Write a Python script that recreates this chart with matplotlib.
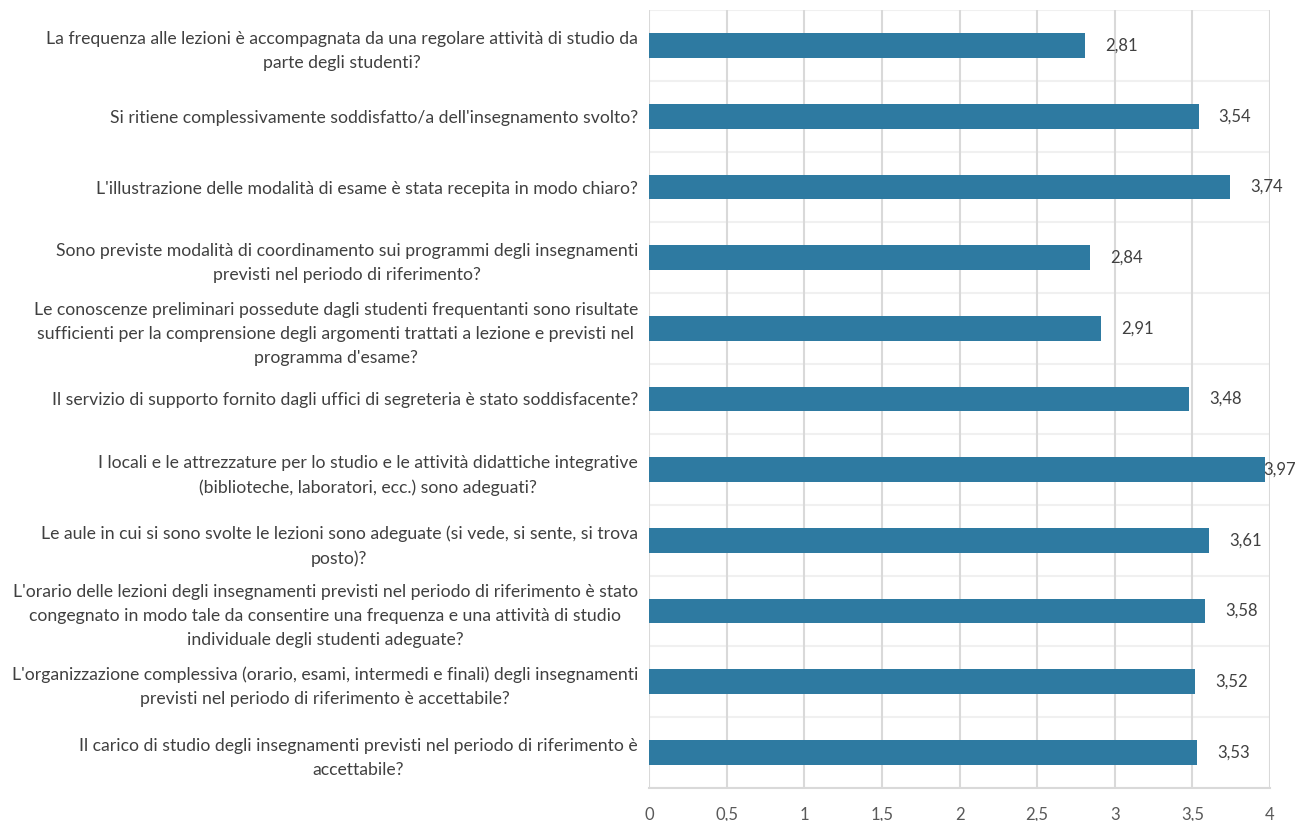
import matplotlib
matplotlib.use("Agg")
import matplotlib.pyplot as plt
import numpy as np

categories = [
    "La frequenza alle lezioni è accompagnata da una regolare attività di studio da\nparte degli studenti?",
    "Si ritiene complessivamente soddisfatto/a dell'insegnamento svolto?",
    "L'illustrazione delle modalità di esame è stata recepita in modo chiaro?",
    "Sono previste modalità di coordinamento sui programmi degli insegnamenti\nprevisti nel periodo di riferimento?",
    "Le conoscenze preliminari possedute dagli studenti frequentanti sono risultate\nsufficienti per la comprensione degli argomenti trattati a lezione e previsti nel\nprogramma d'esame?",
    "Il servizio di supporto fornito dagli uffici di segreteria è stato soddisfacente?",
    "I locali e le attrezzature per lo studio e le attività didattiche integrative\n(biblioteche, laboratori, ecc.) sono adeguati?",
    "Le aule in cui si sono svolte le lezioni sono adeguate (si vede, si sente, si trova\nposto)?",
    "L'orario delle lezioni degli insegnamenti previsti nel periodo di riferimento è stato\ncongegnato in modo tale da consentire una frequenza e una attività di studio\nindividuale degli studenti adeguate?",
    "L'organizzazione complessiva (orario, esami, intermedi e finali) degli insegnamenti\nprevisti nel periodo di riferimento è accettabile?",
    "Il carico di studio degli insegnamenti previsti nel periodo di riferimento è\naccettabile?",
]
values = [2.81, 3.54, 3.74, 2.84, 2.91, 3.48, 3.97, 3.61, 3.58, 3.52, 3.53]
xticks = [0, 0.5, 1, 1.5, 2, 2.5, 3, 3.5, 4]
xtick_labels = ["0", "0,5", "1", "1,5", "2", "2,5", "3", "3,5", "4"]

plt.rcParams['font.family'] = ['Lato', 'DejaVu Sans']
text_color = "#404040"
tick_color = "#595959"
bar_color = "#2E7AA1"

fig = plt.figure(figsize=(12.99, 8.21), dpi=100)
ax = fig.add_axes([649/1299, 1 - 787.5/821, (1270-649)/1299, (787.5-10.5)/821])

y = np.arange(len(categories))
ax.barh(y, values, height=0.35, color=bar_color, zorder=3)
ax.set_xlim(0, 4)
ax.set_ylim(len(categories) - 0.5, -0.5)

ax.set_yticks(y)
ax.set_yticklabels(categories, fontsize=12.7, color=text_color, multialignment='center', linespacing=1.62)
ax.tick_params(axis='y', length=0, pad=8)
ax.set_xticks(xticks)
ax.set_xticklabels(xtick_labels, fontsize=12, color=tick_color)
ax.tick_params(axis='x', length=0, pad=14)

# grid
ax.xaxis.grid(True, color="#D9D9D9", linewidth=1.5, zorder=0)
for b in np.arange(-0.5, len(categories) + 0.5, 1.0):
    ax.axhline(b, color="#F0F0F0", linewidth=1.5, zorder=0)
for s in ["top", "right", "left"]:
    ax.spines[s].set_visible(False)
ax.spines["bottom"].set_color("#D9D9D9")
ax.spines["bottom"].set_linewidth(1.5)

for yi, v in zip(y, values):
    lx = min(v + 0.13, 3.955)
    ax.text(lx, yi, f"{v:.2f}".replace(".", ","), va="center", ha="left",
            fontsize=12, color=text_color, zorder=4)

fig.savefig("out.png", dpi=100)
